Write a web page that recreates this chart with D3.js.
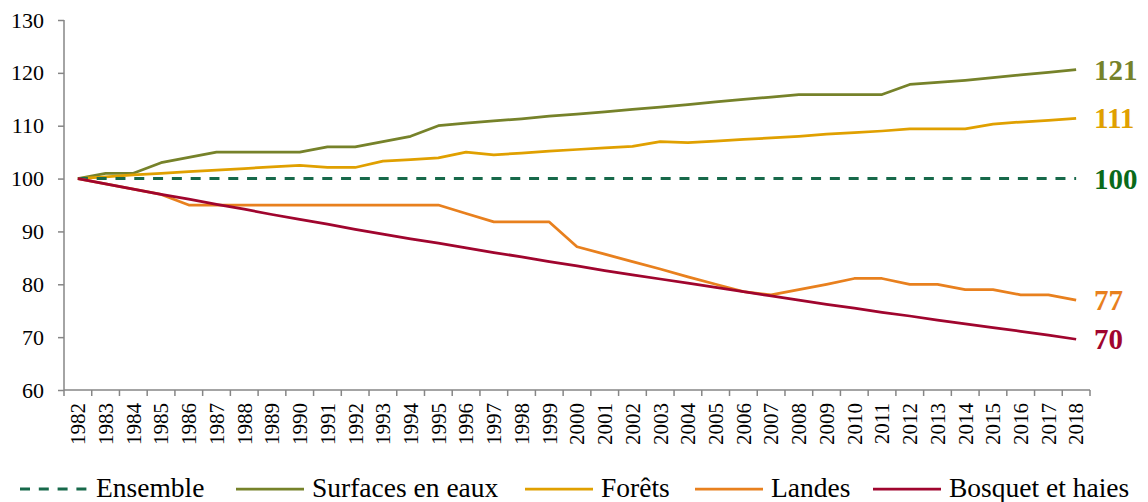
<!DOCTYPE html>
<html>
<head>
<meta charset="utf-8">
<script src="https://cdn.jsdelivr.net/npm/d3@7"></script>
<style>
  body { margin: 0; background: #fff; }
  svg text { font-family: "Liberation Serif", "Times New Roman", serif; }
</style>
</head>
<body>
<script>
(function() {
  // years on the x axis
  var years = d3.range(1982, 2019).map(String);

  // index values, 1982 = 100
  var ensemble = years.map(function() { return 100; });
  var surfaces = [100, 101, 101, 103, 104, 105, 105, 105, 105, 106, 106, 107, 108, 110,
    110.5, 110.9, 111.3, 111.8, 112.2, 112.6, 113.1, 113.5, 114, 114.5, 115, 115.4,
    115.9, 115.9, 115.9, 115.9, 117.8, 118.2, 118.6, 119.1, 119.6, 120.1, 120.6];
  var forets = [100, 100.3, 100.7, 101.0, 101.3, 101.6, 101.9, 102.2, 102.5, 102.1, 102.1,
    103.3, 103.6, 103.9, 105.0, 104.5, 104.8, 105.2, 105.5, 105.8, 106.1, 107.0, 106.8,
    107.1, 107.4, 107.7, 108.0, 108.4, 108.7, 109.0, 109.4, 109.4, 109.4, 110.3, 110.7,
    111.0, 111.4];
  var landes = [100, 99, 98, 97, 95, 95, 95, 95, 95, 95, 95, 95, 95, 95, 93.4, 91.8, 91.8,
    91.8, 87.1, 85.7, 84.3, 82.9, 81.4, 80.0, 78.6, 78.0, 79.0, 80.0, 81.1, 81.1, 80.0,
    80.0, 79.0, 79.0, 78.0, 78.0, 77.0];
  var bosquet = [100, 99.0, 98.0, 97.0, 96.1, 95.1, 94.2, 93.2, 92.3, 91.4, 90.4, 89.5,
    88.6, 87.8, 86.9, 86.0, 85.2, 84.3, 83.5, 82.6, 81.8, 81.0, 80.2, 79.4, 78.6, 77.8,
    77.0, 76.2, 75.5, 74.7, 74.0, 73.2, 72.5, 71.8, 71.1, 70.4, 69.6];

  var seriesNames = ["Ensemble", "Surfaces en eaux", "Forêts", "Landes", "Bosquet et haies"];
  var endLabels = ["100", "121", "111", "77", "70"];
  var yTicks = [60, 70, 80, 90, 100, 110, 120, 130];

  var lineColors = ["#17694a", "#76822a", "#e0a000", "#e8801e", "#a0052e"];
  var labelColors = ["#0a6a1a", "#76822a", "#e0a000", "#e8801e", "#a0052e"];
  var legendX = [20, 236, 525, 695, 873]; // start of each legend swatch

  var w = 1148, h = 502;
  var left = 64, right = 1090, top = 20, bottom = 390;

  var svg = d3.select("body").append("svg")
    .attr("width", w)
    .attr("height", h);

  var x = d3.scaleBand().domain(years).range([left, right]);
  var y = d3.scaleLinear().domain([60, 130]).range([bottom, top]);

  // y axis
  var yAxis = svg.append("g")
    .attr("transform", "translate(" + left + ",0)")
    .call(d3.axisLeft(y).tickValues(yTicks).tickSize(6).tickPadding(14));
  yAxis.selectAll("text").attr("font-size", "22px").attr("fill", "#000")
    .style("font-family", "'Liberation Serif', serif");

  // x axis, ticks between categories
  var xAxis = svg.append("g")
    .attr("transform", "translate(0," + bottom + ")");
  xAxis.append("line")
    .attr("x1", left).attr("x2", right)
    .attr("stroke", "#868686").attr("stroke-width", 1.5);
  xAxis.selectAll("line.tk")
    .data(years.concat(["end"]))
    .enter().append("line")
    .attr("class", "tk")
    .attr("x1", function(d, i) { return left + i * x.step(); })
    .attr("x2", function(d, i) { return left + i * x.step(); })
    .attr("y1", 0).attr("y2", 6)
    .attr("stroke", "#868686").attr("stroke-width", 1.5);
  xAxis.selectAll("text")
    .data(years)
    .enter().append("text")
    .text(function(d) { return d; })
    .attr("transform", function(d) {
      return "translate(" + (x(d) + x.bandwidth() / 2) + ",13) rotate(-90)";
    })
    .attr("dy", "0.35em")
    .attr("text-anchor", "end")
    .attr("font-size", "21px")
    .attr("fill", "#000");

  yAxis.selectAll("path, line").attr("stroke", "#868686").attr("stroke-width", 1.5);
  yAxis.select(".domain").attr("d", "M0," + bottom + "V" + top);

  var allSeries = [ensemble, surfaces, forets, landes, bosquet];

  var line = d3.line()
    .x(function(d, i) { return x(years[i]) + x.bandwidth() / 2; })
    .y(function(d) { return y(d); });

  // draw back-to-front so the red line is on top like the original
  var order = [1, 2, 0, 3, 4];
  order.forEach(function(k) {
    svg.append("path")
      .datum(allSeries[k])
      .attr("d", line)
      .attr("fill", "none")
      .attr("stroke", lineColors[k])
      .attr("stroke-width", k === 0 ? 3 : 2.75)
      .attr("stroke-dasharray", k === 0 ? "10,8.8" : null)
      .attr("stroke-linejoin", "round");
  });

  // end labels
  svg.selectAll("text.end")
    .data(allSeries)
    .enter().append("text")
    .attr("class", "end")
    .text(function(d, i) { return endLabels[i]; })
    .attr("x", 1094)
    .attr("y", function(d) { return y(d[d.length - 1]); })
    .attr("dy", "0.35em")
    .attr("font-size", "29px")
    .attr("font-weight", "bold")
    .attr("fill", function(d, i) { return labelColors[i]; });

  // legend
  var legend = svg.selectAll("g.leg")
    .data(seriesNames)
    .enter().append("g")
    .attr("class", "leg")
    .attr("transform", function(d, i) { return "translate(" + legendX[i] + ",489)"; });
  legend.append("line")
    .attr("x1", 0).attr("x2", 68)
    .attr("stroke", function(d, i) { return lineColors[i]; })
    .attr("stroke-width", function(d, i) { return i === 0 ? 3 : 2.75; })
    .attr("stroke-dasharray", function(d, i) { return i === 0 ? "10,8.8" : null; });
  legend.append("text")
    .text(function(d) { return d; })
    .attr("x", 76)
    .attr("y", 8)
    .attr("font-size", "27.5px")
    .attr("fill", "#000");
})();
</script>
</body>
</html>
